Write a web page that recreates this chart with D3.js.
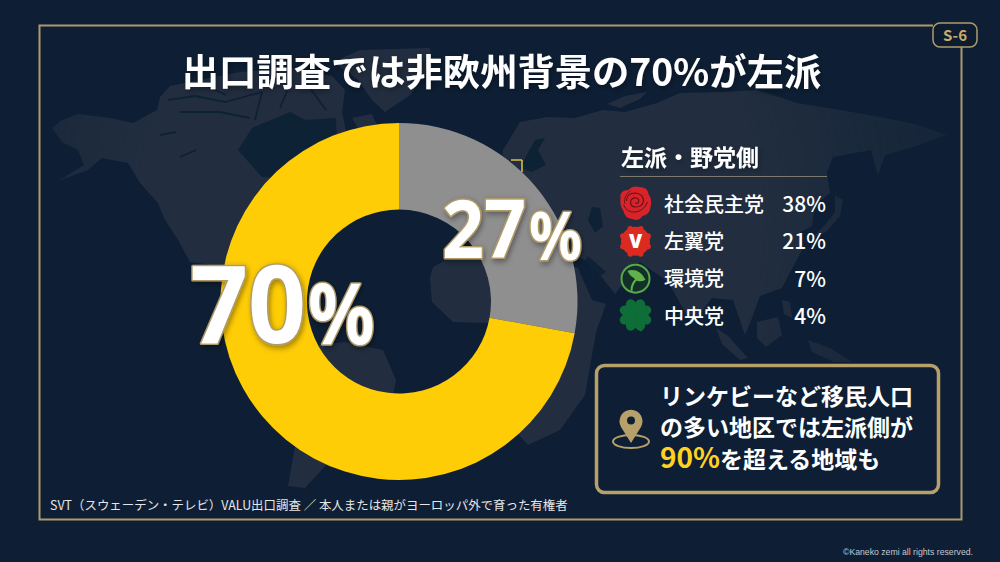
<!DOCTYPE html>
<html lang="ja"><head><meta charset="utf-8">
<script src="https://cdn.jsdelivr.net/npm/d3@7/dist/d3.min.js"></script>
<style>html,body{margin:0;padding:0;background:#0e1f35;overflow:hidden}svg{display:block}</style>
</head><body><svg id="c" width="1000" height="562" font-family="'Noto Sans CJK JP','Noto Sans',sans-serif"></svg>
<script>
const segmentNames = ["左派・野党側以外","左派"];
const segmentValues = [27, 70];
const segmentColors = ["#8f8f8f", "#ffcd05"];
const partyNames = ["社会民主党","左翼党","環境党","中央党"];
const partyValues = [38, 21, 7, 4];
const titleText = "出口調査では非欧州背景の70%が左派";
const legendTitle = "左派・野党側";
const noteLines = ["リンケビーなど移民人口","の多い地区では左派側が"];
const noteLast = ["90%","を超える地域も"];
const sourceText = "SVT（スウェーデン・テレビ）VALU出口調査 ／ 本人または親がヨーロッパ外で育った有権者";
const copyright = "©Kaneko zemi all rights reserved.";
const badge = "S-6";

const land = [
 "M52,128L62,120L78,114L110,118L133,123L157,110L160,97L170,86L200,80L240,72L290,68L332,76L345,90L342,112L350,150L340,180L303,250L300,310L288,312L262,296L240,272L205,264L190,262L178,240L164,218L158,203L140,183L128,163L102,158L88,170L58,181L84,165L78,150L62,142Z",
 "M333,62L360,50L430,48L432,66L410,95L385,112L372,100L358,80Z",
 "M312,346L345,342L383,350L396,380L392,400L372,445L340,450L305,488L288,486L298,430L300,385Z",
 "M430,278L433,267L446,260L482,250L540,254L578,268L592,300L606,304L596,332L585,395L560,430L528,445L505,420L495,360L490,323L453,322L432,302Z",
 "M500,178L503,150L520,122L547,117L575,118L603,110L625,112L657,103L680,93L720,92L757,90L797,103L840,110L880,117L915,124L947,135L913,147L885,155L878,175L871,150L833,157L827,173L830,193L815,205L812,226L800,232L802,250L782,288L760,296L752,318L745,335L733,300L712,298L692,324L668,282L640,262L615,294L590,262L560,250L520,235Z",
 "M607,104L625,96L647,92L640,99L620,108Z",
 "M835,196L843,200L840,216L826,232L812,238L824,226L835,212Z",
 "M757,322L778,317L782,335L766,347L757,338Z",
 "M716,328L728,336L748,358L740,360L722,344Z",
 "M782,300L790,302L792,318L784,314Z",
 "M808,340L830,348L852,362L834,362L812,352Z",
 "M352,118L372,114L378,128L360,132Z"
];
const landHoles = [
 "M238,150L252,128L290,112L306,120L336,118L337,150L300,178L262,177Z",
 "M592,207L600,208L603,226L595,233L588,220Z",
 "M520,168L535,140L545,138L538,150L546,165L532,172Z",
 "M588,256L606,272L600,276L584,262Z"
];
const channels = [
 "M168,100L195,96L225,102L262,92",
 "M180,112L220,112L250,118",
 "M262,92L255,120",
 "M205,85L226,95",
 "M290,84L280,108",
 "M310,88L326,110",
 "M160,135L176,132",
 "M180,157L196,150"
];

const svg = d3.select("#c");
const defs = svg.append("defs");
const sh = defs.append("filter").attr("id","sh").attr("x","-20%").attr("y","-20%").attr("width","140%").attr("height","140%");
sh.append("feDropShadow").attr("dx",1.5).attr("dy",2.5).attr("stdDeviation",3).attr("flood-color","#000").attr("flood-opacity",.4);
const soft = defs.append("filter").attr("id","soft"); soft.append("feGaussianBlur").attr("stdDeviation",.6);
const grad = defs.append("radialGradient").attr("id","mapFade").attr("gradientUnits","userSpaceOnUse").attr("cx",450).attr("cy",220).attr("r",560);
grad.append("stop").attr("offset",.55).attr("stop-color","#fff");
grad.append("stop").attr("offset",1).attr("stop-color","#333");
const mask = defs.append("mask").attr("id","fade"); mask.append("rect").attr("width",1000).attr("height",562).attr("fill","url(#mapFade)");

const bg="#0e1f35";
svg.append("rect").attr("width",1000).attr("height",562).attr("fill",bg);
const gm = svg.append("g").attr("mask","url(#fade)").attr("filter","url(#soft)");
gm.append("g").selectAll("path").data(land).join("path").attr("d",d=>d).attr("fill","#222e40");
gm.append("g").selectAll("path").data(landHoles).join("path").attr("d",d=>d).attr("fill","#0f2036");
gm.append("g").selectAll("path").data(channels).join("path").attr("d",d=>d).attr("fill","none").attr("stroke","#0f2036").attr("stroke-width",1.8);

const gold="#ad9a6c";
svg.append("path").attr("d","M933,25.5H39.5V519.5H961.5V47").attr("fill","none").attr("stroke",gold).attr("stroke-width",2);
svg.append("rect").attr("x",933).attr("y",23).attr("width",44).attr("height",24).attr("rx",7).attr("fill","#0e1c30").attr("stroke",gold).attr("stroke-width",1.5);
svg.append("text").attr("x",955).attr("y",40.5).attr("text-anchor","middle").attr("font-size",15).attr("font-weight",700).attr("fill","#c9aa6a").text(badge);

svg.append("text").attr("x",501.5).attr("y",86).attr("text-anchor","middle").attr("font-size",37.3).attr("font-weight",700).attr("fill","#fff").attr("filter","url(#sh)").text(titleText);

svg.append("path").attr("d","M511,160H522M522,160V172").attr("fill","none").attr("stroke","#d9bb45").attr("stroke-width",1.6);

const cx=399, cy=301.5;
const pie=d3.pie().sort(null).value(d=>d)(segmentValues);
const arc=d3.arc().innerRadius(92).outerRadius(178.5);
svg.append("g").attr("transform",`translate(${cx},${cy})`).selectAll("path").data(pie).join("path").attr("d",arc).attr("fill",(d,i)=>segmentColors[i]);

function bigText(x,y,str,size,sx){
  svg.append("text").attr("transform",`translate(${x},${y}) scale(${sx},1)`)
   .attr("font-family","'Noto Sans','Open Sans',sans-serif").attr("font-weight",700).attr("font-size",size)
   .attr("fill","#fff").attr("stroke","#b09a68").attr("stroke-width",3.2).attr("paint-order","stroke").attr("stroke-linejoin","round").attr("filter","url(#sh)").text(str);
}
bigText(190,343,segmentValues[1],108,.94);
bigText(308,344,"%",84,.88);
bigText(442,258,segmentValues[0],80,.92);
bigText(529,260,"%",66,.89);

svg.append("text").attr("x",621).attr("y",166).attr("font-size",23).attr("font-weight",700).attr("fill","#fff").attr("filter","url(#sh)").text(legendTitle);
svg.append("line").attr("x1",620).attr("x2",827).attr("y1",176.5).attr("y2",176.5).attr("stroke","#7d7a6c").attr("stroke-width",1);
const rowY=d3.scalePoint().domain(partyNames).range([204,316]);
const rows=svg.append("g").selectAll("g").data(partyNames).join("g").attr("transform",d=>`translate(0,${rowY(d)})`);
rows.append("text").attr("x",664).attr("y",7.5).attr("font-size",20).attr("font-weight",500).attr("fill","#fff").text(d=>d);
rows.append("text").attr("x",826).attr("y",8).attr("text-anchor","end").attr("font-size",21).attr("font-weight",500).attr("fill","#fff").text((d,i)=>partyValues[i]+"%");
rows.each(function(d,i){
  const g=d3.select(this).append("g").attr("transform","translate(635.5,0)");
  if(i===0){
    g.append("path").attr("d","M-15,-6Q-16,-14 -7,-14Q-3,-19 4,-17Q12,-17 13,-10Q17,-4 15,3Q14,11 7,12Q3,18 -3,15Q-11,14 -12,7Q-16,2 -15,-6Z").attr("fill","#d8232a");
    const st="#6a1015";
    g.append("path").attr("d","M-9,-3Q-9,-11 0,-11Q8,-10 8,-3Q7,3 0,3Q-5,3 -5,-2Q-4,-7 1,-6Q4,-5 3,-2Q2,0 0,-1").attr("fill","none").attr("stroke",st).attr("stroke-width",1.2);
    g.append("path").attr("d","M-12,1Q-8,9 0,8Q8,7 12,-2").attr("fill","none").attr("stroke",st).attr("stroke-width",1);
    g.append("path").attr("d","M-5,-13Q-12,-9 -11,0").attr("fill","none").attr("stroke",st).attr("stroke-width",.8);
  } else if(i===1){
    g.append("circle").attr("r",14.5).attr("fill","#db2a20");
    g.append("g").selectAll("circle").data(d3.range(8)).join("circle").attr("r",2.8).attr("cx",k=>13.6*Math.cos((k+.5)*Math.PI/4)).attr("cy",k=>13.6*Math.sin((k+.5)*Math.PI/4)).attr("fill","#db2a20");
    g.append("text").attr("text-anchor","middle").attr("y",6.5).attr("font-size",19).attr("font-weight",800).attr("fill","#fff").attr("font-family","'Open Sans',sans-serif").text("V");
  } else if(i===2){
    g.append("circle").attr("r",14).attr("fill","#12302a").attr("stroke","#5aa648").attr("stroke-width",2);
    g.append("path").attr("d","M-8,-8Q4,-11 10,1Q3,5 -2,-1Q-6,-3 -8,-8Z").attr("fill","#62b04c");
    g.append("path").attr("d","M-4,12Q-4,4 3,-1").attr("fill","none").attr("stroke","#62b04c").attr("stroke-width",2);
  } else {
    const leaf="M0,0C-5,-3 -9,-6 -8,-11C-7,-15 -2,-15 0,-12C2,-15 7,-15 8,-11C9,-6 5,-3 0,0Z";
    g.append("g").selectAll("path").data([-45,45,135,225]).join("path").attr("d",leaf).attr("transform",k=>`translate(0,-1) rotate(${k}) scale(1.12)`).attr("fill","#0f6e38");
    g.append("path").attr("d","M0,0Q1,8 6,15").attr("fill","none").attr("stroke","#0f6e38").attr("stroke-width",2.4);
  }
});

svg.append("rect").attr("x",596.5).attr("y",365.5).attr("width",342).attr("height",127).attr("rx",8).attr("fill",bg).attr("stroke","#b8a06a").attr("stroke-width",3.5);
const pin=svg.append("g").attr("transform","translate(631,0)");
pin.append("ellipse").attr("cy",441.5).attr("rx",18).attr("ry",6.5).attr("fill","none").attr("stroke","#b8a06a").attr("stroke-width",2);
pin.append("path").attr("d","M0,443L-10,427A11.5,11.5 0 1 1 10,427Z").attr("fill","#b8a06a");
pin.append("circle").attr("cy",420.5).attr("r",4).attr("fill",bg);
svg.append("g").selectAll("text").data(noteLines).join("text").attr("x",660).attr("y",(d,i)=>405+i*31).attr("font-size",23).attr("font-weight",700).attr("fill","#fff").text(d=>d);
const nl=svg.append("text").attr("x",660).attr("y",468).attr("font-weight",700).attr("fill","#fff");
nl.append("tspan").attr("font-size",28).attr("fill","#ffd21f").text(noteLast[0]);
nl.append("tspan").attr("font-size",23).text(noteLast[1]);

svg.append("text").attr("x",50).attr("y",510).attr("font-size",12.45).attr("fill","#e6e6e6").text(sourceText);
svg.append("text").attr("x",973).attr("y",555).attr("text-anchor","end").attr("font-size",8.7).attr("fill","#c4c8cf").attr("font-family","'Liberation Sans',Arial,sans-serif").text(copyright);
</script></body></html>
